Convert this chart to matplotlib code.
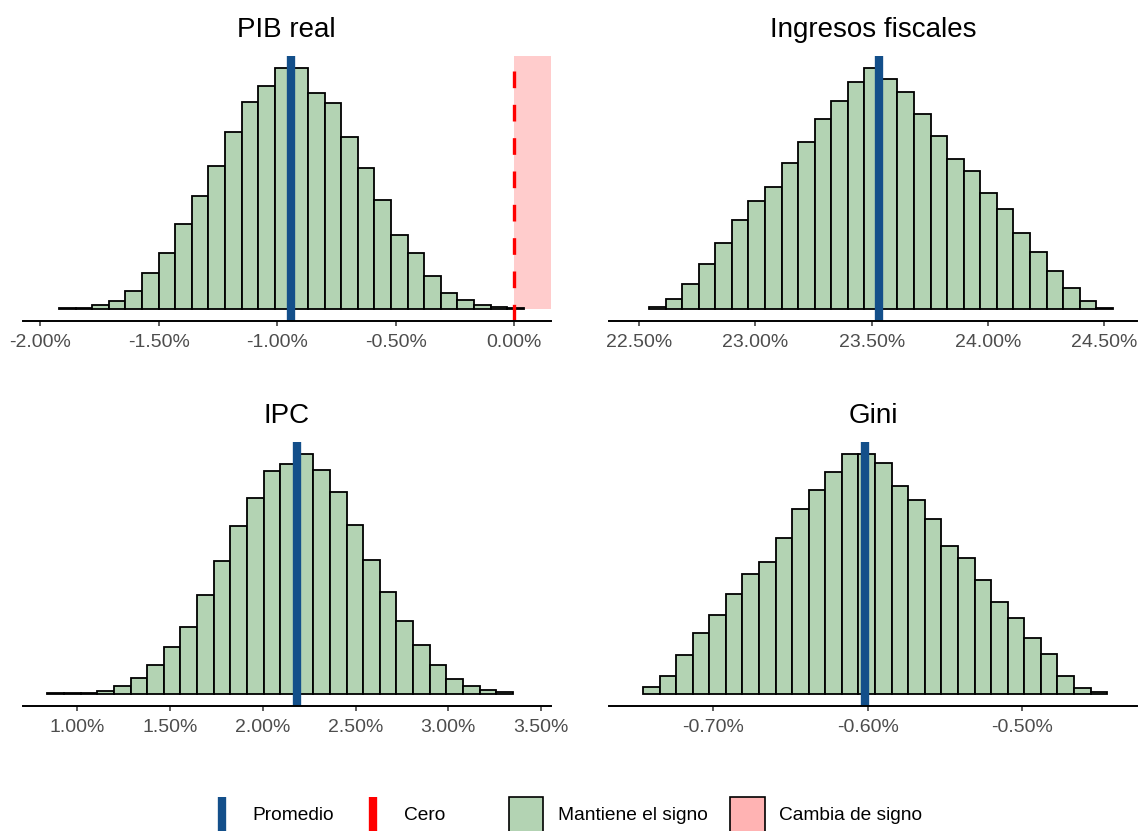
import numpy as np
import matplotlib
matplotlib.use("Agg")
import matplotlib.pyplot as plt
from matplotlib.patches import Rectangle
from matplotlib.lines import Line2D

plt.rcParams['font.family'] = ['Liberation Sans', 'DejaVu Sans']

# ---------------- data ----------------
titles = ["PIB real", "Ingresos fiscales", "IPC", "Gini"]

pib_bin_start = -1.920
pib_bin_width = 0.0700
pib_counts = [1, 2, 10, 23, 53, 105, 167, 252, 337, 425, 527, 618, 663, 718,
              718, 643, 615, 511, 419, 325, 221, 167, 96, 48, 25, 10, 4, 2]
pib_mean = -0.943
pib_ticks = [-2.0, -1.5, -1.0, -0.5, 0.0]
pib_ticklabels = ["-2.00%", "-1.50%", "-1.00%", "-0.50%", "0.00%"]
pib_xlim = (-2.073, 0.1535)

ing_bin_start = 22.543
ing_bin_width = 0.0712
ing_counts = [6, 30, 75, 132, 197, 264, 322, 364, 436, 498, 567, 619, 677, 718,
              685, 647, 581, 515, 446, 410, 345, 297, 225, 169, 113, 63, 24, 3]
ing_mean = 23.530
ing_ticks = [22.5, 23.0, 23.5, 24.0, 24.5]
ing_ticklabels = ["22.50%", "23.00%", "23.50%", "24.00%", "24.50%"]
ing_xlim = (22.372, 24.642)

ipc_bin_start = 0.839
ipc_bin_width = 0.0896
ipc_counts = [2, 4, 4, 9, 24, 49, 88, 142, 201, 297, 400, 506, 589, 670,
              692, 722, 674, 608, 509, 403, 306, 221, 146, 87, 46, 25, 13, 6]
ipc_mean = 2.186
ipc_ticks = [1.0, 1.5, 2.0, 2.5, 3.0, 3.5]
ipc_ticklabels = ["1.00%", "1.50%", "2.00%", "2.50%", "3.00%", "3.50%"]
ipc_xlim = (0.7057, 3.5518)

gini_bin_start = -0.7455
gini_bin_width = 0.010735
gini_counts = [22, 54, 117, 185, 237, 300, 361, 398, 469, 556, 615, 667, 722, 722,
               694, 625, 585, 525, 444, 408, 342, 277, 228, 167, 120, 55, 19, 5]
gini_mean = -0.6015
gini_ticks = [-0.7, -0.6, -0.5]
gini_ticklabels = ["-0.70%", "-0.60%", "-0.50%"]
gini_xlim = (-0.7673, -0.4254)

legend_labels = ["Promedio", "Cero", "Mantiene el signo", "Cambia de signo"]

# ---------------- style ----------------
GREEN = "#B3D3B3"
PINK_BAND = "#FFCCCC"
PINK_KEY = "#FFB3B3"
BLUE = "#134F8A"
RED = "#FF0000"
W, H = 1140, 831

fig = plt.figure(figsize=(W / 100, H / 100), dpi=100)


def axes_px(x0, y0, x1, y1):
    return fig.add_axes([x0 / W, 1 - y1 / H, (x1 - x0) / W, (y1 - y0) / H])


def draw_panel(ax, start, width, counts, mean, xlim, ticks, ticklabels, zero=False):
    n = len(counts)
    lefts = start + width * np.arange(n)
    M = max(counts)
    ax.set_xlim(*xlim)
    ax.set_ylim(-0.05 * M, 1.05 * M)
    if zero:
        ax.axvspan(0, xlim[1], ymin=0.05 / 1.1, ymax=1, color=PINK_BAND, lw=0, zorder=1)
    ax.bar(lefts, counts, width=width, align='edge', color=GREEN,
           edgecolor='black', linewidth=1.3, zorder=2)
    ax.axvline(mean, color=BLUE, lw=6, zorder=3)
    if zero:
        ax.plot([0, 0], [-0.05 * M, 1.05 * M], color=RED, lw=2.4,
                linestyle=(0, (5.0, 5.0)), zorder=4, solid_capstyle='butt',
                dash_capstyle='butt')
    for s in ['left', 'right', 'top']:
        ax.spines[s].set_visible(False)
    ax.spines['bottom'].set_linewidth(1.4)
    ax.spines['bottom'].set_zorder(5)
    ax.set_yticks([])
    ax.set_xticks(ticks)
    ax.set_xticklabels(ticklabels)
    ax.tick_params(axis='x', length=3.5, width=1.1, color='#333333',
                   labelsize=14, labelcolor='#4D4D4D', pad=6)
    ax.patch.set_alpha(0)


panels = [
    ((22.7, 56, 550.7, 320.7), pib_bin_start, pib_bin_width, pib_counts, pib_mean,
     pib_xlim, pib_ticks, pib_ticklabels, True),
    ((609.3, 56, 1137.3, 320.7), ing_bin_start, ing_bin_width, ing_counts, ing_mean,
     ing_xlim, ing_ticks, ing_ticklabels, False),
    ((22.7, 442, 550.7, 706), ipc_bin_start, ipc_bin_width, ipc_counts, ipc_mean,
     ipc_xlim, ipc_ticks, ipc_ticklabels, False),
    ((609.3, 442, 1137.3, 706), gini_bin_start, gini_bin_width, gini_counts, gini_mean,
     gini_xlim, gini_ticks, gini_ticklabels, False),
]

for title, (box, st, wd, cn, mn, xl, tk, tl, z) in zip(titles, panels):
    ax = axes_px(*box)
    draw_panel(ax, st, wd, cn, mn, xl, tk, tl, zero=z)
    cx = (box[0] + box[2]) / 2
    fig.text(cx / W, 1 - (box[1] - 18.7) / H, title, ha='center', va='baseline',
             fontsize=20, color='black')

# ---------------- legend ----------------
def fx(x):
    return x / W


def fy(y):
    return 1 - y / H

fig.add_artist(Line2D([fx(222), fx(222)], [fy(797), fy(845)], color=BLUE, lw=6,
                      solid_capstyle='butt'))
fig.add_artist(Line2D([fx(372.6), fx(372.6)], [fy(797), fy(845)], color=RED, lw=6,
                      solid_capstyle='butt'))
fig.add_artist(Rectangle((fx(509), fy(845)), (543.4 - 509) / W, 48 / H,
                         facecolor=GREEN, edgecolor='black', lw=1.2,
                         transform=fig.transFigure))
fig.add_artist(Rectangle((fx(729.7), fy(845)), (765 - 729.7) / W, 48 / H,
                         facecolor=PINK_KEY, edgecolor='black', lw=1.2,
                         transform=fig.transFigure))
for x, lab in zip([252.8, 403.8, 558.5, 779.0], legend_labels):
    fig.text(fx(x), fy(816), lab, ha='left', va='center', fontsize=13.8, color='black')

fig.savefig("out.png", dpi=100)
